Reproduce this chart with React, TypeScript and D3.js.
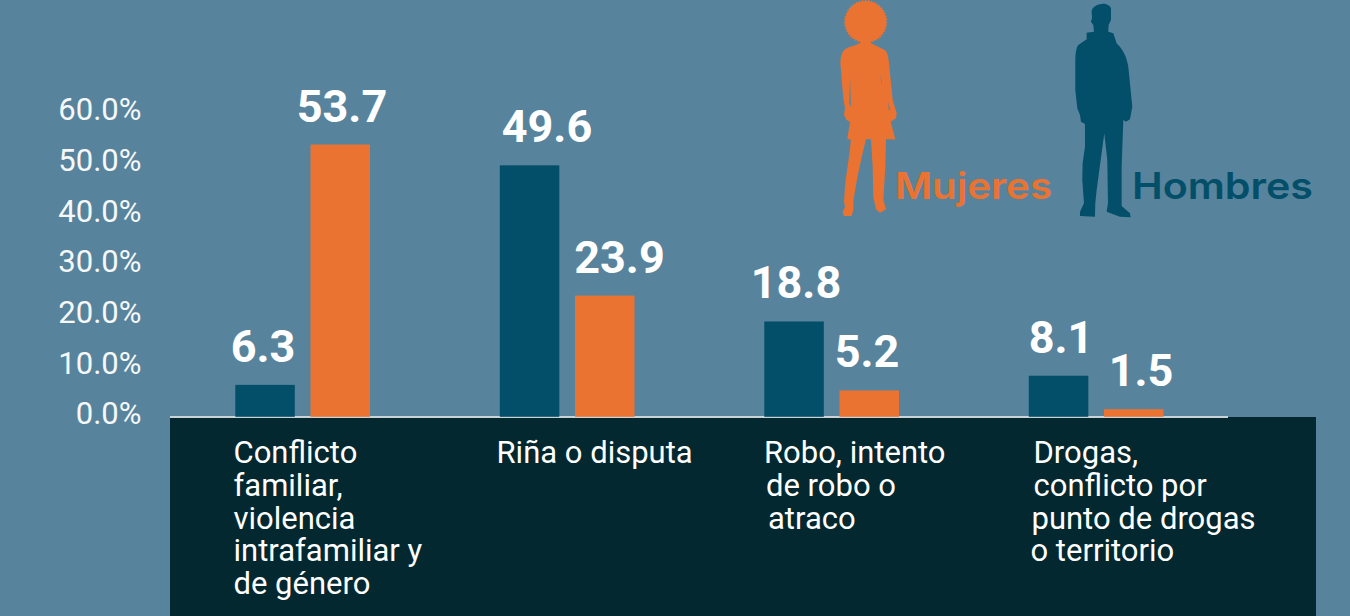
import React from "react";
import * as d3 from "d3";

const categories = ["Conflicto", "Riña", "Robo", "Drogas"];
const hombres = [6.3, 49.6, 18.8, 8.1];
const mujeres = [53.7, 23.9, 5.2, 1.5];
const yTicks = [0, 10, 20, 30, 40, 50, 60];
const categoryLines = [
  ["Conflicto", "familiar,", "violencia", "intrafamiliar y", "de género"],
  ["Riña o disputa"],
  ["Robo, intento", "de robo o", "atraco"],
  ["Drogas,", "conflicto por", "punto de drogas", "o territorio"],
];
const lineIndents = [
  [0, 0, 0, 0, 0],
  [0],
  [0, 2, 4],
  [0, 0, -2, -3],
];
const labelX = [233.5, 496.5, 764, 1033.5];
const hombresLabelX = [263, 547, 796, 1061];
const mujeresLabelX = [342, 619.5, 867, 1141];

const BG = "#57849C";
const NAVY = "#034E68";
const ORANGE = "#EB7332";
const DARK = "#03282F";
const FONT = "Roboto, sans-serif";

const WOMAN =
  "M118 118 L122 128 C110 135 85 140 75 148 C62 160 60 180 62 200 C66 240 68 290 75 325 L72 345 L80 360 L90 365 L82 418 L92 418 C92 450 80 510 75 560 L72 605 L75 620 L68 635 L72 648 L95 648 L100 630 L100 610 C105 560 125 470 138 418 L153 418 L158 500 L160 590 L168 628 L180 638 L198 628 L190 600 L196 500 L198 418 L226 418 L212 365 L228 355 L230 340 L218 300 L207 190 C205 165 200 152 190 148 L150 128 L152 120 Z " +
  "M90 230 L93 320 L88 310 Z M181 222 L186 250 L184 250 Z M205 305 L210 330 L206 330 Z";
const MAN =
  "M845 12 C830 14 815 22 815 35 L816 55 L813 65 L820 75 L822 95 L800 98 L800 118 L775 135 C768 145 766 160 766 190 L766 270 L772 325 L780 345 L783 365 L795 372 L795 440 L788 490 L787 540 L792 610 L780 635 L780 648 L825 650 L826 610 L830 570 L853 400 L862 480 L864 610 L860 635 L900 650 L932 652 L930 640 L905 618 L905 500 L910 360 L918 365 L930 358 L937 320 L925 200 C920 170 910 150 890 130 L880 100 L865 95 L866 75 L873 60 L873 25 C870 15 855 10 845 12 Z";

const y = d3.scaleLinear().domain([0, 60]).range([416.8, 112.6]);
const x = d3.scaleBand<string>().domain(categories).range([170, 1228]).paddingInner(0).paddingOuter(0);
const BAR_W = 59.5;
const offH = 65.3;
const offM = 140.5;

export default function App() {
  return (
    <svg
      width={1350}
      height={616}
      viewBox="0 0 1350 616"
      style={{ position: "fixed", left: 0, top: 0, display: "block", background: BG }}
      fontFamily={FONT}
    >
      <rect width={1350} height={616} fill={BG} />
      <rect x={170} y={417} width={1146} height={199} fill={DARK} />
      <rect x={170} y={416} width={1058} height={2} fill="#C9D3D8" />

      {yTicks.map((t) => (
        <text key={t} x={141.5} y={y(t) + 7.6} textAnchor="end" fontSize={31} fill="#fff" fontWeight={400} opacity={0.95}>
          {t.toFixed(1)}%
        </text>
      ))}

      {categories.map((c, i) => {
        const x0 = x(c)!;
        return (
          <g key={c}>
            <rect x={x0 + offH} y={y(hombres[i])} width={BAR_W} height={y(0) - y(hombres[i])} fill={NAVY} />
            <rect x={x0 + offM} y={y(mujeres[i])} width={BAR_W} height={y(0) - y(mujeres[i])} fill={ORANGE} />
            <text x={hombresLabelX[i]} y={y(hombres[i]) - 23} textAnchor="middle" fontSize={45} fontWeight={700} fill="#fff">
              {hombres[i].toFixed(1)}
            </text>
            <text x={mujeresLabelX[i]} y={y(mujeres[i]) - 23} textAnchor="middle" fontSize={45} fontWeight={700} fill="#fff">
              {mujeres[i].toFixed(1)}
            </text>
            {categoryLines[i].map((l, j) => (
              <text key={j} x={labelX[i] + lineIndents[i][j]} y={463.3 + j * 32.7} fontSize={31} fill="#fff">
                {l}
              </text>
            ))}
          </g>
        );
      })}

      <g transform="translate(820,0) scale(0.3333)">
        <circle cx={137} cy={65} r={62} fill={ORANGE} stroke={ORANGE} strokeWidth={6} strokeDasharray="4 5" />
        <path d={WOMAN} fill={ORANGE} fillRule="evenodd" />
        <path d={MAN} fill={NAVY} />
      </g>
      <text x={895} y={199} fontFamily="Inter, sans-serif" fontWeight={600} fontSize={37} fill={ORANGE} textLength={157} lengthAdjust="spacingAndGlyphs">
        Mujeres
      </text>
      <text x={1132} y={199} fontFamily="Inter, sans-serif" fontWeight={600} fontSize={37} fill={NAVY} textLength={181} lengthAdjust="spacingAndGlyphs">
        Hombres
      </text>
    </svg>
  );
}
